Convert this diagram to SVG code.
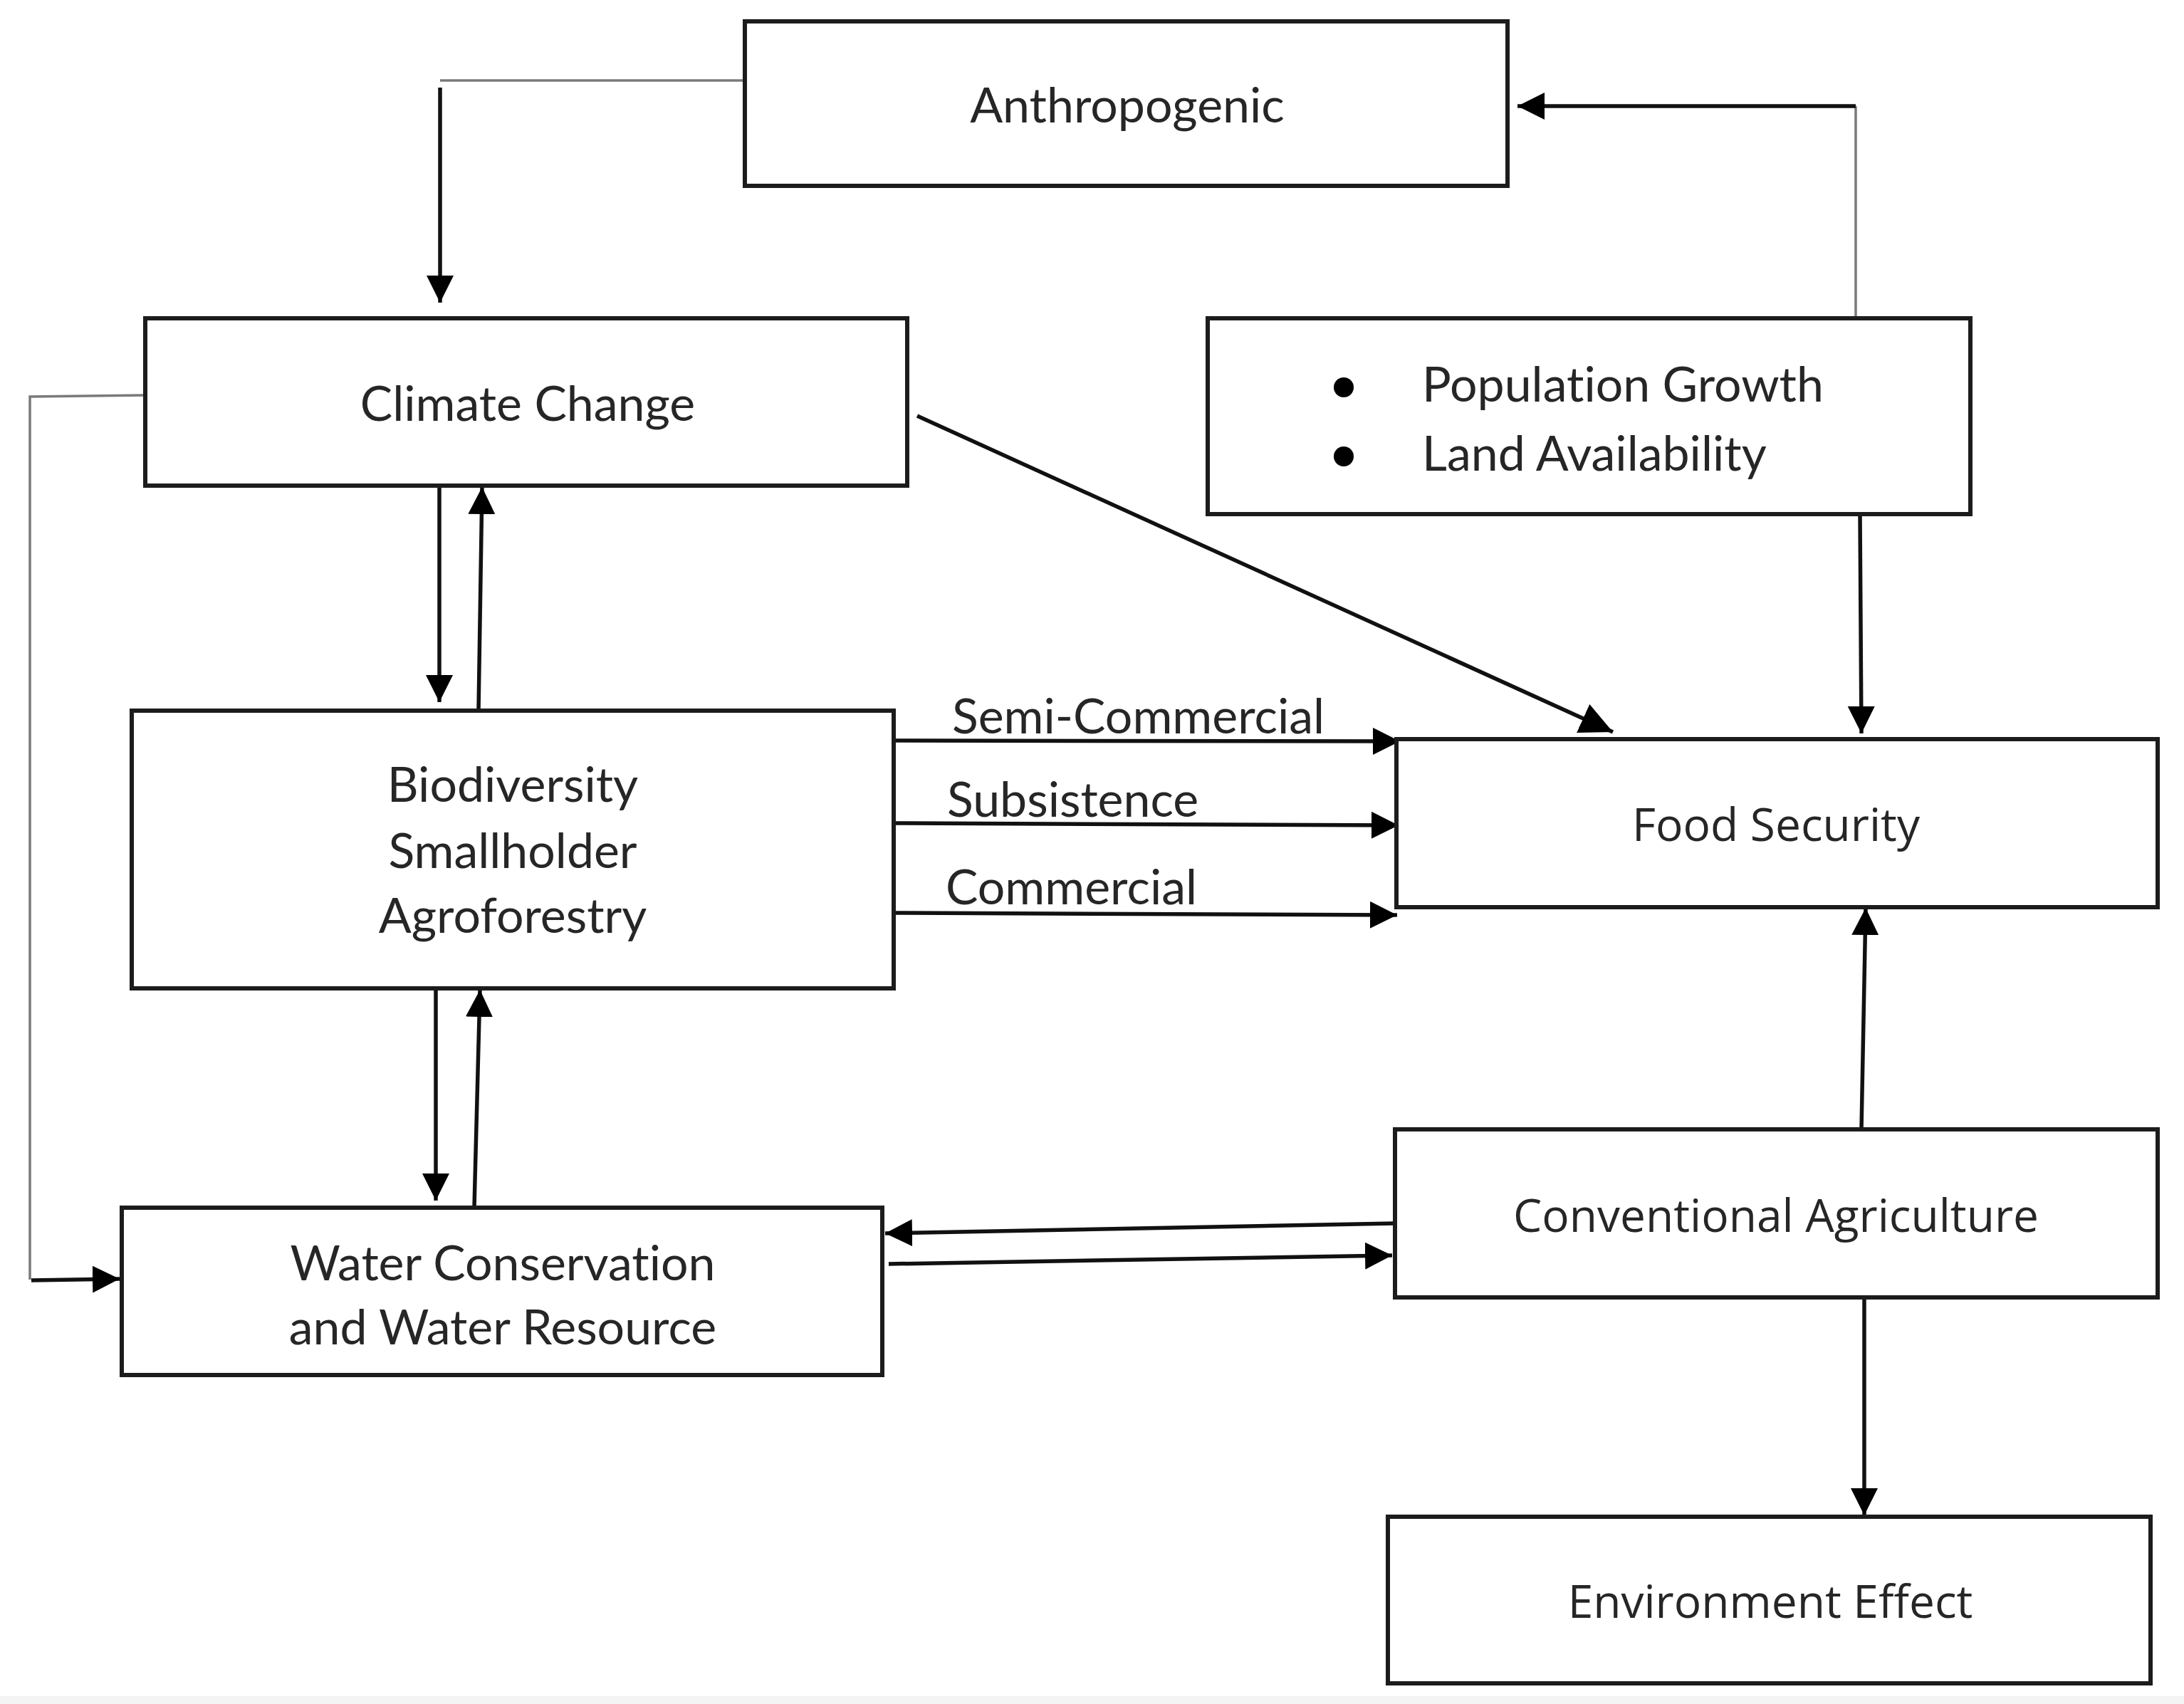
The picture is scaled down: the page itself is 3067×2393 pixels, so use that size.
<svg xmlns="http://www.w3.org/2000/svg" width="3067" height="2393" viewBox="0 0 3067 2393">
<style>
.box{fill:#ffffff;stroke:#1c1c1c;stroke-width:6}
.t1{font-family:Lato,"Liberation Sans",sans-serif;font-size:68px;fill:#262626;text-anchor:middle;font-variant-ligatures:none}
.t1s{font-family:Lato,"Liberation Sans",sans-serif;font-size:68px;fill:#262626;font-variant-ligatures:none}
.t2{font-family:"Open Sans","Noto Sans",sans-serif;font-size:64px;fill:#262626;text-anchor:middle}
.ln{fill:none;stroke:#111111;stroke-width:5.5}
.gl{fill:none;stroke:#7a7a7a;stroke-width:3.5}
</style>
<defs>
<marker id="ah" markerUnits="userSpaceOnUse" markerWidth="40" markerHeight="40" refX="38" refY="19" orient="auto">
<path d="M0,0 L38,19 L0,38 z" fill="#000000"/>
</marker>
<marker id="ahL" markerUnits="userSpaceOnUse" markerWidth="50" markerHeight="50" refX="46" refY="22" orient="auto">
<path d="M0,0 L46,22 L0,44 z" fill="#000000"/>
</marker>
</defs>
<rect x="0" y="0" width="3067" height="2393" fill="#ffffff"/>
<rect x="0" y="2382" width="3067" height="11" fill="#f3f3f3"/>

<g id="connectors">
<!-- Anthropogenic -> Climate Change -->
<path class="gl" d="M1046,113 L618,113"/>
<path class="ln" d="M618,123 L618,425" marker-end="url(#ah)"/>
<!-- Population -> Anthropogenic -->
<path class="gl" d="M2606,447 L2606,149"/>
<path class="ln" d="M2606,149 L2131,149" marker-end="url(#ah)"/>
<!-- Climate Change -> Water (left loop) -->
<path class="gl" d="M204,555 L42,557 L42,1797"/>
<path class="ln" d="M44,1798 L168,1796" marker-end="url(#ah)"/>
<!-- Climate Change <-> Biodiversity -->
<path class="ln" d="M617,682 L617,986" marker-end="url(#ah)"/>
<path class="ln" d="M672,998 L677,684" marker-end="url(#ah)"/>
<!-- Climate Change -> Food Security diagonal -->
<path class="ln" d="M1288,584 L2265,1028" marker-end="url(#ahL)"/>
<!-- Population -> Food Security -->
<path class="ln" d="M2612,722 L2614,1030" marker-end="url(#ah)"/>
<!-- Biodiversity -> Food Security -->
<path class="ln" d="M1255,1040 L1966,1041" marker-end="url(#ah)"/>
<path class="ln" d="M1255,1156 L1964,1159" marker-end="url(#ah)"/>
<path class="ln" d="M1255,1282 L1962,1285" marker-end="url(#ah)"/>
<!-- Biodiversity <-> Water -->
<path class="ln" d="M612,1388 L612,1686" marker-end="url(#ah)"/>
<path class="ln" d="M666,1696 L674,1390" marker-end="url(#ah)"/>
<!-- Conventional Agriculture <-> Water -->
<path class="ln" d="M1959,1718 L1243,1732" marker-end="url(#ah)"/>
<path class="ln" d="M1248,1775 L1955,1763" marker-end="url(#ah)"/>
<!-- Conventional Agriculture -> Food Security -->
<path class="ln" d="M2614,1586 L2620,1275" marker-end="url(#ah)"/>
<!-- Conventional Agriculture -> Environment Effect -->
<path class="ln" d="M2618,1822 L2618,2128" marker-end="url(#ah)"/>
<!-- labels -->
<text class="t1s" x="1337" y="1030">Semi-Commercial</text>
<text class="t1s" x="1330" y="1147">Subsistence</text>
<text class="t1s" x="1328" y="1270">Commercial</text>
</g>

<g id="anthropogenic">
<rect class="box" x="1046" y="30" width="1071" height="231"/>
<text class="t1" x="1583" y="172">Anthropogenic</text>
</g>

<g id="climate-change">
<rect class="box" x="204" y="447" width="1070" height="235"/>
<text class="t1" x="741" y="591">Climate Change</text>
</g>

<g id="population">
<rect class="box" x="1696" y="447" width="1071" height="275"/>
<circle cx="1887" cy="544" r="14" fill="#000000"/>
<circle cx="1887" cy="641" r="14" fill="#000000"/>
<text class="t1s" x="1997" y="564">Population Growth</text>
<text class="t1s" x="1997" y="661">Land Availability</text>
</g>

<g id="biodiversity">
<rect class="box" x="185" y="998" width="1070" height="390"/>
<text class="t1" x="720" y="1126">Biodiversity</text>
<text class="t1" x="720" y="1219">Smallholder</text>
<text class="t1" x="720" y="1310">Agroforestry</text>
</g>

<g id="food-security">
<rect class="box" x="1961" y="1038" width="1069" height="236"/>
<text class="t2" x="2494" y="1181">Food Security</text>
</g>

<g id="water">
<rect class="box" x="171" y="1696" width="1068" height="235"/>
<text class="t1" x="706" y="1798">Water Conservation</text>
<text class="t1" x="706" y="1888">and Water Resource</text>
</g>

<g id="conventional-agriculture">
<rect class="box" x="1959" y="1586" width="1071" height="236"/>
<text class="t2" x="2494" y="1730">Conventional Agriculture</text>
</g>

<g id="environment-effect">
<rect class="box" x="1949" y="2130" width="1071" height="234"/>
<text class="t2" x="2486" y="2272">Environment Effect</text>
</g>
</svg>
